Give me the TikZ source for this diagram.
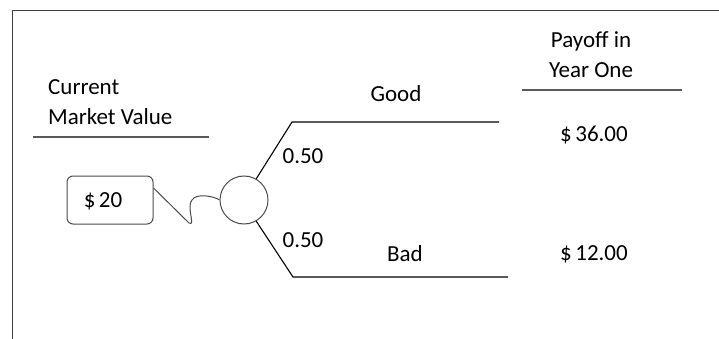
\documentclass[tikz,border=0pt]{standalone}
\usepackage{fontspec}
\setmainfont{Carlito}
\usetikzlibrary{calc}
\begin{document}
\begin{tikzpicture}[x=1pt,y=-1pt,
  lbl/.style={inner sep=0pt,anchor=base,font=\fontsize{23}{28}\selectfont,text=black},
  rule/.style={draw=black!65,line width=1.4pt},
  branch/.style={draw=black,line width=1.1pt},
  frame/.style={draw=black!75,line width=1pt},
  valuebox/.style={draw=black!70,line width=1pt,rounded corners=6pt,minimum width=86pt,minimum height=48pt,inner sep=0pt},
  chancenode/.style={circle,draw=black!70,line width=1pt,minimum size=48pt,inner sep=0pt}]
\useasboundingbox (0,0) rectangle (719,339);
% open frame: top and left edges
\draw[frame] (12,339) -- (12,11) -- (719,11);

% column headings
\node[lbl,anchor=base west] (cur) at (48,95) {Current};
\node[lbl,anchor=base west] (mkt) at (48,125) {Market Value};
\coordinate (ruleL1) at (33,137);
\coordinate (ruleL2) at (209,137);
\draw[rule] (ruleL1) -- (ruleL2);

\node[lbl] (pay) at (591,48) {Payoff in};
\node[lbl] (yr) at (591,78) {Year One};
\coordinate (ruleR1) at (522,90);
\coordinate (ruleR2) at (682,90);
\draw[rule] (ruleR1) -- (ruleR2);

% current value and chance node
\node[valuebox] (start) at (110,200) {};
\node[lbl] (startval) at (103,207) {\$\kern3.5pt20};
\node[chancenode] (chance) at (244,200) {};

% wavy link from the value box to the chance node
\coordinate (w1) at (189,223);
\coordinate (w2) at (192,200);
\draw[draw=black!70,line width=1pt]
  ($(start.east)+(0,-12)$) -- (w1)
  .. controls (196,227) and (186,206) .. (w2)
  .. controls (196,193) and (214,196) .. (chance.west);

% branch corners and ends
\coordinate (gk) at (292,122);
\coordinate (ge) at (499,122);
\coordinate (bk) at (293,277);
\coordinate (be) at (508,277);
\draw[branch] (chance.60) -- (gk) -- (ge);
\draw[branch] (chance.-60) -- (bk) -- (be);

% branch labels
\node[lbl] (good) at (396,102) {Good};
\node[lbl] (bad) at (405,261) {Bad};
\node[lbl] (pg) at (303,164) {0.50};
\node[lbl] (pb) at (303,247) {0.50};

% payoffs
\node[lbl] (hi) at (594,142) {\$\kern3.5pt36.00};
\node[lbl] (lo) at (594,260) {\$\kern3.5pt12.00};
\end{tikzpicture}
\end{document}
